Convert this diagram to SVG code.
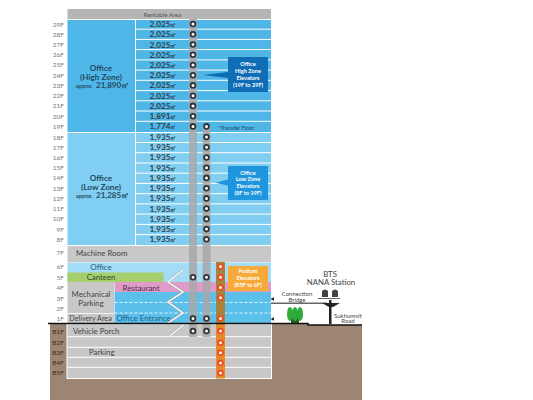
<svg xmlns="http://www.w3.org/2000/svg" width="533" height="400" viewBox="0 0 533 400">
<style>
text{font-family:"Lato","Liberation Sans",sans-serif;fill:#444}
.fl{font-size:6.5px;text-anchor:end;fill:#777}
.bf{font-size:6.5px;text-anchor:end;fill:#3a3027}
.ar{font-size:8.2px;font-weight:700;text-anchor:middle;fill:#2f3f4a}
.u{font-size:6.4px}
.lb{font-size:7.8px;fill:#444}
.z{font-size:8.2px;font-weight:700;text-anchor:middle;fill:#234a5e}
.ap{font-size:5px;font-weight:700;fill:#234a5e}
.zn{font-size:8px;font-weight:700;fill:#234a5e}
.e{font-size:5.6px;font-weight:700;text-anchor:middle;fill:#fff}
.m{font-size:7.8px;text-anchor:middle;fill:#444}
.bl{font-size:8px;text-anchor:middle;fill:#1f5d80}
.st{font-size:7.8px;text-anchor:middle;fill:#444}
.s{font-size:6px;text-anchor:middle;fill:#444}
.w{stroke:#fff;stroke-width:1;fill:none}
.d{stroke:#fff;stroke-width:.8;stroke-dasharray:3 2;fill:none}
.c{fill:#fff;stroke:#333;stroke-width:1.8}
.o{fill:#fff;stroke:#ee4a22;stroke-width:1.8}
</style>
<path d="M50 323H308V325H362V400H50Z" fill="#9c8573"/>
<g id="rentable"><rect x="67.5" y="9" width="203.5" height="10" fill="#b5b5b5"/><text x="162.5" y="17" style="font-size:6.2px;text-anchor:middle;fill:#555">Rentable Area</text></g>
<g id="high-zone">
<rect x="67.5" y="19" width="203.5" height="113" fill="#4fb6e8"/>
<path class="w" d="M67.5 19.5H271M135.5 19V132M136 29.2H271M136 39.4H271M136 49.6H271M136 59.9H271M136 70.1H271M136 80.3H271M136 90.6H271M136 100.8H271M136 111H271M136 121.3H271"/>
<text class="z" x="101" y="71">Office</text><text class="z" x="101" y="79.5">(High Zone)</text>
<text class="ap" x="76" y="88">approx.</text><text class="zn" x="96" y="88">21,890㎡</text>
</g>
<g id="low-zone">
<rect x="67.5" y="132" width="203.5" height="113" fill="#80cef1"/>
<path class="w" d="M67.5 132.5H271M135.5 132V245M136 142.5H271M136 152.7H271M136 163H271M136 173.2H271M136 183.4H271M136 193.7H271M136 203.9H271M136 214.1H271M136 224.4H271M136 234.6H271"/>
<text class="z" x="101" y="180.5">Office</text><text class="z" x="101" y="189.5">(Low Zone)</text>
<text class="ap" x="76" y="198">approx.</text><text class="zn" x="96" y="198">21,285㎡</text>
</g>
<g id="areas">
<text class="ar" x="163" y="27">2,025<tspan class="u">㎡</tspan></text><text class="ar" x="163" y="37.3">2,025<tspan class="u">㎡</tspan></text><text class="ar" x="163" y="47.5">2,025<tspan class="u">㎡</tspan></text><text class="ar" x="163" y="57.7">2,025<tspan class="u">㎡</tspan></text><text class="ar" x="163" y="68">2,025<tspan class="u">㎡</tspan></text><text class="ar" x="163" y="78.2">2,025<tspan class="u">㎡</tspan></text><text class="ar" x="163" y="88.4">2,025<tspan class="u">㎡</tspan></text><text class="ar" x="163" y="98.7">2,025<tspan class="u">㎡</tspan></text><text class="ar" x="163" y="108.9">2,025<tspan class="u">㎡</tspan></text><text class="ar" x="163" y="119.2">1,891<tspan class="u">㎡</tspan></text><text class="ar" x="163" y="129.4">1,774<tspan class="u">㎡</tspan></text>
<text class="ar" x="163" y="139.9">1,935<tspan class="u">㎡</tspan></text><text class="ar" x="163" y="150.2">1,935<tspan class="u">㎡</tspan></text><text class="ar" x="163" y="160.4">1,935<tspan class="u">㎡</tspan></text><text class="ar" x="163" y="170.6">1,935<tspan class="u">㎡</tspan></text><text class="ar" x="163" y="180.9">1,935<tspan class="u">㎡</tspan></text><text class="ar" x="163" y="191.1">1,935<tspan class="u">㎡</tspan></text><text class="ar" x="163" y="201.3">1,935<tspan class="u">㎡</tspan></text><text class="ar" x="163" y="211.6">1,935<tspan class="u">㎡</tspan></text><text class="ar" x="163" y="221.8">1,935<tspan class="u">㎡</tspan></text><text class="ar" x="163" y="232">1,935<tspan class="u">㎡</tspan></text><text class="ar" x="163" y="242.3">1,935<tspan class="u">㎡</tspan></text>
</g>
<g id="floors">
<text class="fl" x="64" y="26.5">29F</text><text class="fl" x="64" y="36.7">28F</text><text class="fl" x="64" y="47">27F</text><text class="fl" x="64" y="57.2">26F</text><text class="fl" x="64" y="67.4">25F</text><text class="fl" x="64" y="77.7">24F</text><text class="fl" x="64" y="87.9">23F</text><text class="fl" x="64" y="98.1">22F</text><text class="fl" x="64" y="108.4">21F</text><text class="fl" x="64" y="118.6">20F</text><text class="fl" x="64" y="128.8">19F</text>
<text class="fl" x="64" y="139.5">18F</text><text class="fl" x="64" y="149.7">17F</text><text class="fl" x="64" y="160">16F</text><text class="fl" x="64" y="170.2">15F</text><text class="fl" x="64" y="180.4">14F</text><text class="fl" x="64" y="190.7">13F</text><text class="fl" x="64" y="200.9">12F</text><text class="fl" x="64" y="211.1">11F</text><text class="fl" x="64" y="221.4">10F</text><text class="fl" x="64" y="231.6">9F</text><text class="fl" x="64" y="241.8">8F</text>
<text class="fl" x="64" y="255">7F</text><text class="fl" x="64" y="269">6F</text><text class="fl" x="64" y="279.5">5F</text><text class="fl" x="64" y="290">4F</text><text class="fl" x="64" y="300.5">3F</text><text class="fl" x="64" y="310.5">2F</text><text class="fl" x="64" y="320.5">1F</text>
<text class="bf" x="64" y="333.5">B1F</text><text class="bf" x="64" y="344.5">B2F</text><text class="bf" x="64" y="355">B3F</text><text class="bf" x="64" y="365">B4F</text><text class="bf" x="64" y="375">B5F</text>
</g>
<g id="lower-floors">
<rect x="67.5" y="246" width="203.5" height="16" fill="#c8c8c8"/>
<rect x="67.5" y="262.5" width="203.5" height="19.5" fill="#a3dcf5"/>
<rect x="67.5" y="272.5" width="96" height="9.5" fill="#a5cf6f"/>
<rect x="67.5" y="282" width="46.5" height="41" fill="#c8c8c8"/>
<rect x="114.5" y="292" width="156.5" height="31" fill="#5cc0ec"/>
<rect x="114.5" y="282" width="156.5" height="10" fill="#df9cc8"/>
<path class="d" d="M114.5 302.5H271M114.5 313H271"/>
<rect x="67" y="324" width="204.5" height="54.5" fill="#c8c8c8" stroke="#fff" stroke-width="1"/>
<path class="w" d="M67.5 336.7H271M67.5 347.3H271M67.5 357.3H271M67.5 367.3H271"/>
<path d="M67.5 313.5H114" stroke="#fff" stroke-width=".8"/>
<text class="lb" x="76" y="256">Machine Room</text>
<text class="bl" x="101" y="269.5">Office</text>
<text class="st" x="101" y="280" style="fill:#2f4a22">Canteen</text>
<text class="m" x="91" y="297">Mechanical</text><text class="m" x="91" y="305.5">Parking</text>
<text class="m" x="90.5" y="320.5" style="font-size:7.2px">Delivery Area</text>
<text class="st" x="141" y="290.5" style="fill:#4d2f4a">Restaurant</text>
<text class="bl" x="143.5" y="320.5">Office Entrance</text>
<text class="lb" x="73" y="334">Vehicle Porch</text>
<text class="lb" x="89" y="355">Parking</text>
</g>
<g id="break-lines">
<path d="M183 270L168 282L183 292L168 302L183 313L168 323" fill="none" stroke="#999" stroke-width="2.2"/>
<path d="M183 270L168 282L183 292L168 302L183 313L168 323" fill="none" stroke="#fff" stroke-width="1.5"/>
<path d="M186 323L170 336" fill="none" stroke="#999" stroke-width="2.2"/>
<path d="M186 323L170 336" fill="none" stroke="#fff" stroke-width="1.5"/>
</g>
<g id="shafts">
<rect x="189" y="19" width="8" height="318" fill="#a8a8a8" opacity=".85"/>
<rect x="202.5" y="126" width="8" height="211" fill="#a8a8a8" opacity=".85"/>
<rect x="216" y="262" width="9" height="61" fill="#a8833d"/>
<rect x="216" y="323" width="9" height="55.5" fill="#e68a2a"/>
</g>
<g id="stops">
<circle class="c" cx="193" cy="24" r="2.4"/><circle class="c" cx="193" cy="34.3" r="2.4"/><circle class="c" cx="193" cy="44.5" r="2.4"/><circle class="c" cx="193" cy="54.7" r="2.4"/><circle class="c" cx="193" cy="65" r="2.4"/><circle class="c" cx="193" cy="75.2" r="2.4"/><circle class="c" cx="193" cy="85.4" r="2.4"/><circle class="c" cx="193" cy="95.7" r="2.4"/><circle class="c" cx="193" cy="105.9" r="2.4"/><circle class="c" cx="193" cy="116.2" r="2.4"/><circle class="c" cx="193" cy="126.4" r="2.4"/>
<circle class="c" cx="206.5" cy="126.4" r="2.4"/><circle class="c" cx="206.5" cy="137" r="2.4"/><circle class="c" cx="206.5" cy="147.2" r="2.4"/><circle class="c" cx="206.5" cy="157.5" r="2.4"/><circle class="c" cx="206.5" cy="167.7" r="2.4"/><circle class="c" cx="206.5" cy="177.9" r="2.4"/><circle class="c" cx="206.5" cy="188.2" r="2.4"/><circle class="c" cx="206.5" cy="198.4" r="2.4"/><circle class="c" cx="206.5" cy="208.6" r="2.4"/><circle class="c" cx="206.5" cy="218.9" r="2.4"/><circle class="c" cx="206.5" cy="229.1" r="2.4"/><circle class="c" cx="206.5" cy="239.3" r="2.4"/>
<circle class="c" cx="193" cy="277.3" r="2.4"/><circle class="c" cx="206.5" cy="277.3" r="2.4"/><circle class="c" cx="193" cy="318.5" r="2.4"/><circle class="c" cx="206.5" cy="318.5" r="2.4"/><circle class="c" cx="193" cy="331" r="2.4"/><circle class="c" cx="206.5" cy="331" r="2.4"/>
<circle class="o" cx="220.5" cy="266.5" r="2.4"/><circle class="o" cx="220.5" cy="277.3" r="2.4"/><circle class="o" cx="220.5" cy="287.5" r="2.4"/><circle class="o" cx="220.5" cy="297.8" r="2.4"/><circle class="o" cx="220.5" cy="318.5" r="2.4"/><circle class="o" cx="220.5" cy="331" r="2.4"/><circle class="o" cx="220.5" cy="342.7" r="2.4"/><circle class="o" cx="220.5" cy="352.7" r="2.4"/><circle class="o" cx="220.5" cy="363" r="2.4"/><circle class="o" cx="220.5" cy="373" r="2.4"/>
</g>
<g id="high-elevators">
<path d="M228 72L228 78L203 75Z" fill="#0f6db5"/>
<rect x="228" y="57" width="40" height="35" fill="#0f6db5"/>
<text class="e" x="248" y="66">Office</text><text class="e" x="248" y="73">High Zone</text><text class="e" x="248" y="80">Elevators</text><text class="e" x="248" y="87">(19F to 29F)</text>
</g>
<g id="low-elevators">
<path d="M228 179.5L228 185.5L215 182.7Z" fill="#1e95dc"/>
<rect x="228" y="166" width="40" height="34" fill="#1e95dc"/>
<text class="e" x="248" y="174.7">Office</text><text class="e" x="248" y="181.4">Low Zone</text><text class="e" x="248" y="188.3">Elevators</text><text class="e" x="248" y="194.9">(8F to 19F)</text>
</g>
<g id="podium-elevators">
<rect x="228" y="266" width="40" height="25" fill="#f7a93a"/>
<text class="e" x="248" y="273">Podium</text><text class="e" x="248" y="280">Elevators</text><text class="e" x="248" y="286.7">(B5F to 6F)</text>
</g>
<text x="218" y="129.5" style="font-size:5.6px;fill:#234a5e">*Transfer Floor</text>
<g id="site">
<path d="M295 312V324" stroke="#2a5a2a" stroke-width="8"/>
<ellipse cx="290" cy="314" rx="3" ry="7" fill="#2eaa3a"/><ellipse cx="295" cy="314" rx="3" ry="7" fill="#2eaa3a"/><ellipse cx="300" cy="314" rx="3" ry="7" fill="#2eaa3a"/>
<path d="M271 303.3H327" stroke="#666" stroke-width="1.4"/>
<path d="M322 303H340L333 307H329Z" fill="#222"/>
<path d="M318 298.5H340" stroke="#666" stroke-width="1"/>
<rect x="329" y="300" width="2.5" height="24" fill="#222"/>
<path d="M270.5 299L274 297.2V300.8ZM270.5 319L274 317.2V320.8Z" fill="#222"/>
<path d="M322 297V291Q325 288 328 291V297ZM332 297V291Q335 288 338 291V297Z" fill="#444"/>
<text class="m" x="330" y="276.5">BTS</text><text class="m" x="331" y="285">NANA Station</text>
<text class="s" x="297" y="295.8">Connection</text><text class="s" x="297" y="301.5">Bridge</text>
<text class="s" x="348" y="317.5">Sukhumvit</text><text class="s" x="348" y="323">Road</text>
</g>
<path id="ground" d="M48 323.5H308V325H362" stroke="#111" stroke-width="1.4" fill="none"/>
</svg>
